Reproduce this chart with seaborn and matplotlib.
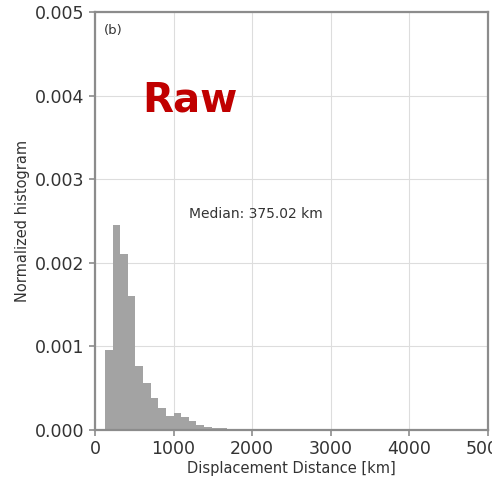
"""Normalized histogram of raw displacement distances."""

import numpy as np
import pandas as pd
import seaborn as sns
import matplotlib.pyplot as plt


OUT_PATH = 'out.png'

# histogram: bins start at ~127 km, ~97 km wide
BIN_START = 127
BIN_WIDTH = 97
DENSITY = [
    0.00096, 0.00245, 0.00210, 0.00160, 0.00077, 0.00056, 0.00038,
    0.00026, 0.000167, 0.000206, 0.000158, 0.000103, 0.000063, 0.00004,
    0.000022, 0.000018, 0.000015, 0.000012, 0.00001, 0.000008, 0.000006,
    0.000002, 0.000002, 0.000002, 0.000008, 0.000005,
]
MEDIAN_KM = 375.02

X_TICKS = [0, 1000, 2000, 3000, 4000, 5000]
Y_TICKS = [0.000, 0.001, 0.002, 0.003, 0.004, 0.005]

SPINE_GREY = '#8c8c8c'
TEXT_GREY = '#333333'


def main():
    edges = BIN_START + BIN_WIDTH * np.arange(len(DENSITY) + 1)
    centers = (edges[:-1] + edges[1:]) / 2
    df = pd.DataFrame({'distance': centers, 'density': DENSITY})

    sns.set_style('white')
    fig = plt.figure(figsize = (4.92, 4.78), dpi = 100)
    ax = fig.add_axes([95 / 492, 1 - 430 / 478, 393 / 492, 418 / 478])

    sns.histplot(
        data = df, x = 'distance', weights = 'density',
        bins = [float(e) for e in edges],
        stat = 'count', color = '#a3a3a3', alpha = 1, edgecolor = 'none',
        linewidth = 0, ax = ax,
    )

    ax.set_xlim(0, 5000)
    ax.set_ylim(0, 0.005)
    ax.set_xticks(X_TICKS)
    ax.set_yticks(Y_TICKS)
    ax.set_yticklabels([f'{v:.3f}' for v in Y_TICKS])
    ax.grid(True, color = '#dddddd', linewidth = 0.8)
    ax.set_axisbelow(True)
    for spine in ax.spines.values():
        spine.set_color(SPINE_GREY)
        spine.set_linewidth(1.6)
    ax.tick_params(
        axis = 'both', labelsize = 12.5, colors = SPINE_GREY,
        labelcolor = TEXT_GREY, length = 4, width = 1.2, direction = 'out',
        bottom = True, left = True,
    )

    ax.set_xlabel('Displacement Distance [km]', fontsize = 10.5,
                  color = TEXT_GREY, labelpad = 2)
    ax.set_ylabel('Normalized histogram', fontsize = 10.5,
                  color = TEXT_GREY, labelpad = 4)

    ax.text(0.022, 0.955, '(b)', transform = ax.transAxes, fontsize = 9.5,
            color = TEXT_GREY, va = 'center')
    ax.text(600, 0.00394, 'Raw', fontsize = 29, fontweight = 'bold',
            color = '#c00000', va = 'center')
    ax.text(1200, 0.00258, f'Median: {MEDIAN_KM:.2f} km', fontsize = 10,
            color = TEXT_GREY, va = 'center')

    fig.savefig(OUT_PATH, dpi = 100)
    plt.close(fig)


if __name__ == '__main__':
    main()
